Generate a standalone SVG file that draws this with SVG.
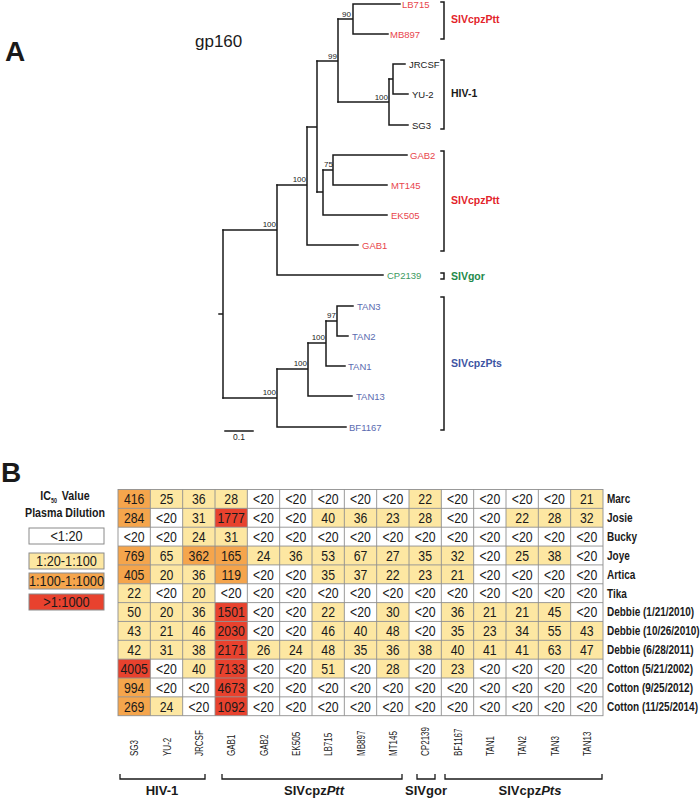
<svg xmlns="http://www.w3.org/2000/svg" width="700" height="800" viewBox="0 0 700 800">
<style>
text{font-family:"Liberation Sans",Arial,sans-serif;fill:#1a1a1a}
.br{fill:none;stroke:#1a1a1a;stroke-width:1.5;stroke-linecap:square}
.tip{font-size:9.5px}
.sup{font-size:8px;text-anchor:end}
.red{fill:#e8454c}.grn{fill:#3d9a5f}.blu{fill:#5a6bb0}
.gl{font-size:10.5px;font-weight:bold}
.gred{fill:#e3242b}.ggrn{fill:#1e8a4a}.gblu{fill:#3e55a3}
.y{fill:#fde7a2}.o{fill:#f5a54c}.r{fill:#e8422e}
.cell{font-size:15px;text-anchor:middle}
.rowl{font-size:12.5px;font-weight:bold}
.coll{font-size:11.5px}
.bl{font-size:13px;font-weight:bold;text-anchor:middle}
.grid{stroke:#8f8f8f;stroke-width:0.9;fill:none}
.lbox{stroke:#8a8a8a;stroke-width:1}
.ltxt{font-size:15px;text-anchor:middle}
</style>

<text x="5" y="61" font-size="28" font-weight="bold">A</text>
<text x="195" y="47" font-size="17">gp160</text>

<g id="connectors" class="br">
<path d="M219 314H223M223 230V398"/>
<path d="M223 230H277M277 185V275M277 275H383"/>
<path d="M277 185H307M307 127V245M307 245H358"/>
<path d="M307 127H317M317 61V192"/>
<path d="M317 61H338M338 19V102"/>
<path d="M338 19H353M353 4V34M353 4H400M353 34H388"/>
<path d="M338 102H389M389 79V125M389 125H408"/>
<path d="M389 79H393M393 64V94M393 64H405M393 94H408"/>
<path d="M317 192H323M323 170V215M323 215H387"/>
<path d="M323 170H333M333 155V185M333 155H407M333 185H387"/>
<path d="M223 398H277M277 369V427M277 427H346"/>
<path d="M277 369H308M308 343V396M308 396H352"/>
<path d="M308 343H326M326 321V366M326 366H345"/>
<path d="M326 321H337M337 306V336M337 306H353M337 336H348"/>
<path d="M225 431H253"/>
</g>
<text x="239" y="440" font-size="8.5" text-anchor="middle">0.1</text>

<g id="support">
<text class="sup" x="351" y="17">90</text>
<text class="sup" x="337" y="59">99</text>
<text class="sup" x="388" y="100">100</text>
<text class="sup" x="333" y="167">75</text>
<text class="sup" x="306" y="182">100</text>
<text class="sup" x="276" y="227">100</text>
<text class="sup" x="276" y="395">100</text>
<text class="sup" x="307" y="366">100</text>
<text class="sup" x="325" y="340">100</text>
<text class="sup" x="336" y="318">97</text>
</g>

<g id="tip-LB715"><text class="tip red" x="402" y="7.5">LB715</text></g>
<g id="tip-MB897"><text class="tip red" x="390" y="37.5">MB897</text></g>
<g id="tip-JRCSF"><text class="tip" x="409" y="67.5">JRCSF</text></g>
<g id="tip-YU2"><text class="tip" x="412" y="97.5">YU-2</text></g>
<g id="tip-SG3"><text class="tip" x="412" y="128.5">SG3</text></g>
<g id="tip-GAB2"><text class="tip red" x="410" y="158.5">GAB2</text></g>
<g id="tip-MT145"><text class="tip red" x="391" y="188.5">MT145</text></g>
<g id="tip-EK505"><text class="tip red" x="391" y="218.5">EK505</text></g>
<g id="tip-GAB1"><text class="tip red" x="362" y="248.5">GAB1</text></g>
<g id="tip-CP2139"><text class="tip grn" x="387" y="278.5">CP2139</text></g>
<g id="tip-TAN3"><text class="tip blu" x="357" y="309.5">TAN3</text></g>
<g id="tip-TAN2"><text class="tip blu" x="352" y="339.5">TAN2</text></g>
<g id="tip-TAN1"><text class="tip blu" x="348" y="369.5">TAN1</text></g>
<g id="tip-TAN13"><text class="tip blu" x="356" y="399.5">TAN13</text></g>
<g id="tip-BF1167"><text class="tip blu" x="349" y="430.5">BF1167</text></g>

<g id="clade-brackets" class="br">
<path d="M441 2H444V39H441"/>
<path d="M441 60H444V129H441"/>
<path d="M441 151H444V251H441"/>
<path d="M441 273H444V279H441"/>
<path d="M441 297H444V430H441"/>
</g>
<g id="clade-labels">
<text class="gl gred" x="451" y="23">SIVcpzPtt</text>
<text class="gl" x="451" y="97">HIV-1</text>
<text class="gl gred" x="451" y="204">SIVcpzPtt</text>
<text class="gl ggrn" x="451" y="280">SIVgor</text>
<text class="gl gblu" x="451" y="367">SIVcpzPts</text>
</g>

<text x="1" y="482" font-size="28" font-weight="bold">B</text>

<g id="legend">
<text transform="translate(65,500) scale(0.82,1)" font-size="13" font-weight="bold" text-anchor="middle">IC<tspan font-size="6.5" dy="2.5">50</tspan><tspan dy="-2.5" dx="6">Value</tspan></text>
<text transform="translate(65,517) scale(0.82,1)" font-size="13" font-weight="bold" text-anchor="middle">Plasma Dilution</text>
<rect class="lbox" x="29" y="528" width="75" height="16" fill="#fff"/>
<rect class="lbox y" x="29" y="553" width="75" height="16"/>
<rect class="lbox o" x="29" y="573" width="75" height="16"/>
<rect class="lbox r" x="29" y="594" width="75" height="16"/>
<g transform="translate(66.5,0) scale(0.85,1)">
<text class="ltxt" x="0" y="541">&lt;1:20</text>
<text class="ltxt" x="0" y="566">1:20-1:100</text>
<text class="ltxt" x="0" y="586">1:100-1:1000</text>
<text class="ltxt" x="0" y="607">&gt;1:1000</text>
</g>
</g>

<g id="table-cells">
<rect x="118" y="489.5" width="485" height="226.2" fill="#fff"/>
<rect class="o" x="118" y="489.5" width="32.33" height="18.85"/>
<rect class="y" x="150.33" y="489.5" width="97" height="18.85"/>
<rect class="y" x="409" y="489.5" width="32.33" height="18.85"/>
<rect class="y" x="570.67" y="489.5" width="32.33" height="18.85"/>

<rect class="o" x="118" y="508.35" width="32.33" height="18.85"/>
<rect class="y" x="182.67" y="508.35" width="32.33" height="18.85"/>
<rect class="r" x="215" y="508.35" width="32.33" height="18.85"/>
<rect class="y" x="312" y="508.35" width="129.33" height="18.85"/>
<rect class="y" x="506" y="508.35" width="97" height="18.85"/>

<rect class="y" x="182.67" y="527.2" width="64.67" height="18.85"/>

<rect class="o" x="118" y="546.05" width="32.33" height="18.85"/>
<rect class="y" x="150.33" y="546.05" width="32.33" height="18.85"/>
<rect class="o" x="182.67" y="546.05" width="64.67" height="18.85"/>
<rect class="y" x="247.33" y="546.05" width="226.33" height="18.85"/>
<rect class="y" x="506" y="546.05" width="64.67" height="18.85"/>

<rect class="o" x="118" y="564.9" width="32.33" height="18.85"/>
<rect class="y" x="150.33" y="564.9" width="64.67" height="18.85"/>
<rect class="o" x="215" y="564.9" width="32.33" height="18.85"/>
<rect class="y" x="312" y="564.9" width="161.67" height="18.85"/>

<rect class="y" x="118" y="583.75" width="32.33" height="18.85"/>
<rect class="y" x="182.67" y="583.75" width="32.33" height="18.85"/>

<rect class="y" x="118" y="602.6" width="97" height="18.85"/>
<rect class="r" x="215" y="602.6" width="32.33" height="18.85"/>
<rect class="y" x="312" y="602.6" width="32.33" height="18.85"/>
<rect class="y" x="376.67" y="602.6" width="32.33" height="18.85"/>
<rect class="y" x="441.33" y="602.6" width="129.33" height="18.85"/>

<rect class="y" x="118" y="621.45" width="97" height="18.85"/>
<rect class="r" x="215" y="621.45" width="32.33" height="18.85"/>
<rect class="y" x="312" y="621.45" width="97" height="18.85"/>
<rect class="y" x="441.33" y="621.45" width="161.67" height="18.85"/>

<rect class="y" x="118" y="640.3" width="97" height="18.85"/>
<rect class="r" x="215" y="640.3" width="32.33" height="18.85"/>
<rect class="y" x="247.33" y="640.3" width="355.67" height="18.85"/>

<rect class="r" x="118" y="659.15" width="32.33" height="18.85"/>
<rect class="y" x="182.67" y="659.15" width="32.33" height="18.85"/>
<rect class="r" x="215" y="659.15" width="32.33" height="18.85"/>
<rect class="y" x="312" y="659.15" width="32.33" height="18.85"/>
<rect class="y" x="376.67" y="659.15" width="32.33" height="18.85"/>
<rect class="y" x="441.33" y="659.15" width="32.33" height="18.85"/>

<rect class="o" x="118" y="678" width="32.33" height="18.85"/>
<rect class="r" x="215" y="678" width="32.33" height="18.85"/>

<rect class="o" x="118" y="696.85" width="32.33" height="18.85"/>
<rect class="y" x="150.33" y="696.85" width="32.33" height="18.85"/>
<rect class="r" x="215" y="696.85" width="32.33" height="18.85"/>
</g>

<g id="table-grid" class="grid">
<rect x="118" y="489.5" width="485" height="226.2"/>
<path d="M150.33 489.5V715.7M182.67 489.5V715.7M215 489.5V715.7M247.33 489.5V715.7M279.67 489.5V715.7M312 489.5V715.7M344.33 489.5V715.7M376.67 489.5V715.7M409 489.5V715.7M441.33 489.5V715.7M473.67 489.5V715.7M506 489.5V715.7M538.33 489.5V715.7M570.67 489.5V715.7"/>
<path d="M118 508.35H603M118 527.2H603M118 546.05H603M118 564.9H603M118 583.75H603M118 602.6H603M118 621.45H603M118 640.3H603M118 659.15H603M118 678H603M118 696.85H603"/>
</g>

<g id="table-values">
<g transform="translate(134.17,0) scale(0.82,1)">
<text class="cell" y="504.2">416</text><text class="cell" y="523.05">284</text><text class="cell" y="541.9">&lt;20</text><text class="cell" y="560.75">769</text><text class="cell" y="579.6">405</text><text class="cell" y="598.45">22</text><text class="cell" y="617.3">50</text><text class="cell" y="636.15">43</text><text class="cell" y="655">42</text><text class="cell" y="673.85">4005</text><text class="cell" y="692.7">994</text><text class="cell" y="711.55">269</text>
</g>
<g transform="translate(166.5,0) scale(0.82,1)">
<text class="cell" y="504.2">25</text><text class="cell" y="523.05">&lt;20</text><text class="cell" y="541.9">&lt;20</text><text class="cell" y="560.75">65</text><text class="cell" y="579.6">20</text><text class="cell" y="598.45">&lt;20</text><text class="cell" y="617.3">20</text><text class="cell" y="636.15">21</text><text class="cell" y="655">31</text><text class="cell" y="673.85">&lt;20</text><text class="cell" y="692.7">&lt;20</text><text class="cell" y="711.55">24</text>
</g>
<g transform="translate(198.83,0) scale(0.82,1)">
<text class="cell" y="504.2">36</text><text class="cell" y="523.05">31</text><text class="cell" y="541.9">24</text><text class="cell" y="560.75">362</text><text class="cell" y="579.6">36</text><text class="cell" y="598.45">20</text><text class="cell" y="617.3">36</text><text class="cell" y="636.15">46</text><text class="cell" y="655">38</text><text class="cell" y="673.85">40</text><text class="cell" y="692.7">&lt;20</text><text class="cell" y="711.55">&lt;20</text>
</g>
<g transform="translate(231.17,0) scale(0.82,1)">
<text class="cell" y="504.2">28</text><text class="cell" y="523.05">1777</text><text class="cell" y="541.9">31</text><text class="cell" y="560.75">165</text><text class="cell" y="579.6">119</text><text class="cell" y="598.45">&lt;20</text><text class="cell" y="617.3">1501</text><text class="cell" y="636.15">2030</text><text class="cell" y="655">2171</text><text class="cell" y="673.85">7133</text><text class="cell" y="692.7">4673</text><text class="cell" y="711.55">1092</text>
</g>
<g transform="translate(263.5,0) scale(0.82,1)">
<text class="cell" y="504.2">&lt;20</text><text class="cell" y="523.05">&lt;20</text><text class="cell" y="541.9">&lt;20</text><text class="cell" y="560.75">24</text><text class="cell" y="579.6">&lt;20</text><text class="cell" y="598.45">&lt;20</text><text class="cell" y="617.3">&lt;20</text><text class="cell" y="636.15">&lt;20</text><text class="cell" y="655">26</text><text class="cell" y="673.85">&lt;20</text><text class="cell" y="692.7">&lt;20</text><text class="cell" y="711.55">&lt;20</text>
</g>
<g transform="translate(295.83,0) scale(0.82,1)">
<text class="cell" y="504.2">&lt;20</text><text class="cell" y="523.05">&lt;20</text><text class="cell" y="541.9">&lt;20</text><text class="cell" y="560.75">36</text><text class="cell" y="579.6">&lt;20</text><text class="cell" y="598.45">&lt;20</text><text class="cell" y="617.3">&lt;20</text><text class="cell" y="636.15">&lt;20</text><text class="cell" y="655">24</text><text class="cell" y="673.85">&lt;20</text><text class="cell" y="692.7">&lt;20</text><text class="cell" y="711.55">&lt;20</text>
</g>
<g transform="translate(328.17,0) scale(0.82,1)">
<text class="cell" y="504.2">&lt;20</text><text class="cell" y="523.05">40</text><text class="cell" y="541.9">&lt;20</text><text class="cell" y="560.75">53</text><text class="cell" y="579.6">35</text><text class="cell" y="598.45">&lt;20</text><text class="cell" y="617.3">22</text><text class="cell" y="636.15">46</text><text class="cell" y="655">48</text><text class="cell" y="673.85">51</text><text class="cell" y="692.7">&lt;20</text><text class="cell" y="711.55">&lt;20</text>
</g>
<g transform="translate(360.5,0) scale(0.82,1)">
<text class="cell" y="504.2">&lt;20</text><text class="cell" y="523.05">36</text><text class="cell" y="541.9">&lt;20</text><text class="cell" y="560.75">67</text><text class="cell" y="579.6">37</text><text class="cell" y="598.45">&lt;20</text><text class="cell" y="617.3">&lt;20</text><text class="cell" y="636.15">40</text><text class="cell" y="655">35</text><text class="cell" y="673.85">&lt;20</text><text class="cell" y="692.7">&lt;20</text><text class="cell" y="711.55">&lt;20</text>
</g>
<g transform="translate(392.83,0) scale(0.82,1)">
<text class="cell" y="504.2">&lt;20</text><text class="cell" y="523.05">23</text><text class="cell" y="541.9">&lt;20</text><text class="cell" y="560.75">27</text><text class="cell" y="579.6">22</text><text class="cell" y="598.45">&lt;20</text><text class="cell" y="617.3">30</text><text class="cell" y="636.15">48</text><text class="cell" y="655">36</text><text class="cell" y="673.85">28</text><text class="cell" y="692.7">&lt;20</text><text class="cell" y="711.55">&lt;20</text>
</g>
<g transform="translate(425.17,0) scale(0.82,1)">
<text class="cell" y="504.2">22</text><text class="cell" y="523.05">28</text><text class="cell" y="541.9">&lt;20</text><text class="cell" y="560.75">35</text><text class="cell" y="579.6">23</text><text class="cell" y="598.45">&lt;20</text><text class="cell" y="617.3">&lt;20</text><text class="cell" y="636.15">&lt;20</text><text class="cell" y="655">38</text><text class="cell" y="673.85">&lt;20</text><text class="cell" y="692.7">&lt;20</text><text class="cell" y="711.55">&lt;20</text>
</g>
<g transform="translate(457.5,0) scale(0.82,1)">
<text class="cell" y="504.2">&lt;20</text><text class="cell" y="523.05">&lt;20</text><text class="cell" y="541.9">&lt;20</text><text class="cell" y="560.75">32</text><text class="cell" y="579.6">21</text><text class="cell" y="598.45">&lt;20</text><text class="cell" y="617.3">36</text><text class="cell" y="636.15">35</text><text class="cell" y="655">40</text><text class="cell" y="673.85">23</text><text class="cell" y="692.7">&lt;20</text><text class="cell" y="711.55">&lt;20</text>
</g>
<g transform="translate(489.83,0) scale(0.82,1)">
<text class="cell" y="504.2">&lt;20</text><text class="cell" y="523.05">&lt;20</text><text class="cell" y="541.9">&lt;20</text><text class="cell" y="560.75">&lt;20</text><text class="cell" y="579.6">&lt;20</text><text class="cell" y="598.45">&lt;20</text><text class="cell" y="617.3">21</text><text class="cell" y="636.15">23</text><text class="cell" y="655">41</text><text class="cell" y="673.85">&lt;20</text><text class="cell" y="692.7">&lt;20</text><text class="cell" y="711.55">&lt;20</text>
</g>
<g transform="translate(522.17,0) scale(0.82,1)">
<text class="cell" y="504.2">&lt;20</text><text class="cell" y="523.05">22</text><text class="cell" y="541.9">&lt;20</text><text class="cell" y="560.75">25</text><text class="cell" y="579.6">&lt;20</text><text class="cell" y="598.45">&lt;20</text><text class="cell" y="617.3">21</text><text class="cell" y="636.15">34</text><text class="cell" y="655">41</text><text class="cell" y="673.85">&lt;20</text><text class="cell" y="692.7">&lt;20</text><text class="cell" y="711.55">&lt;20</text>
</g>
<g transform="translate(554.5,0) scale(0.82,1)">
<text class="cell" y="504.2">&lt;20</text><text class="cell" y="523.05">28</text><text class="cell" y="541.9">&lt;20</text><text class="cell" y="560.75">38</text><text class="cell" y="579.6">&lt;20</text><text class="cell" y="598.45">&lt;20</text><text class="cell" y="617.3">45</text><text class="cell" y="636.15">55</text><text class="cell" y="655">63</text><text class="cell" y="673.85">&lt;20</text><text class="cell" y="692.7">&lt;20</text><text class="cell" y="711.55">&lt;20</text>
</g>
<g transform="translate(586.83,0) scale(0.82,1)">
<text class="cell" y="504.2">21</text><text class="cell" y="523.05">32</text><text class="cell" y="541.9">&lt;20</text><text class="cell" y="560.75">&lt;20</text><text class="cell" y="579.6">&lt;20</text><text class="cell" y="598.45">&lt;20</text><text class="cell" y="617.3">&lt;20</text><text class="cell" y="636.15">43</text><text class="cell" y="655">47</text><text class="cell" y="673.85">&lt;20</text><text class="cell" y="692.7">&lt;20</text><text class="cell" y="711.55">&lt;20</text>
</g>
</g>

<g id="row-labels" transform="translate(607,0) scale(0.8,1)">
<text class="rowl" y="503.3">Marc</text>
<text class="rowl" y="522.15">Josie</text>
<text class="rowl" y="541">Bucky</text>
<text class="rowl" y="559.85">Joye</text>
<text class="rowl" y="578.7">Artica</text>
<text class="rowl" y="597.55">Tika</text>
<text class="rowl" y="616.4">Debbie (1/21/2010)</text>
<text class="rowl" y="635.25">Debbie (10/26/2010)</text>
<text class="rowl" y="654.1">Debbie (6/28/2011)</text>
<text class="rowl" y="672.95">Cotton (5/21/2002)</text>
<text class="rowl" y="691.8">Cotton (9/25/2012)</text>
<text class="rowl" y="710.65">Cotton (11/25/2014)</text>
</g>

<g id="column-labels">
<text class="coll" transform="translate(134.17,756) rotate(-90) scale(0.7,1)" y="4">SG3</text>
<text class="coll" transform="translate(166.5,756) rotate(-90) scale(0.7,1)" y="4">YU-2</text>
<text class="coll" transform="translate(198.83,756) rotate(-90) scale(0.7,1)" y="4">JRCSF</text>
<text class="coll" transform="translate(231.17,756) rotate(-90) scale(0.7,1)" y="4">GAB1</text>
<text class="coll" transform="translate(263.5,756) rotate(-90) scale(0.7,1)" y="4">GAB2</text>
<text class="coll" transform="translate(295.83,756) rotate(-90) scale(0.7,1)" y="4">EK505</text>
<text class="coll" transform="translate(328.17,756) rotate(-90) scale(0.7,1)" y="4">LB715</text>
<text class="coll" transform="translate(360.5,756) rotate(-90) scale(0.7,1)" y="4">MB897</text>
<text class="coll" transform="translate(392.83,756) rotate(-90) scale(0.7,1)" y="4">MT145</text>
<text class="coll" transform="translate(425.17,756) rotate(-90) scale(0.7,1)" y="4">CP2139</text>
<text class="coll" transform="translate(457.5,756) rotate(-90) scale(0.7,1)" y="4">BF1167</text>
<text class="coll" transform="translate(489.83,756) rotate(-90) scale(0.7,1)" y="4">TAN1</text>
<text class="coll" transform="translate(522.17,756) rotate(-90) scale(0.7,1)" y="4">TAN2</text>
<text class="coll" transform="translate(554.5,756) rotate(-90) scale(0.7,1)" y="4">TAN3</text>
<text class="coll" transform="translate(586.83,756) rotate(-90) scale(0.7,1)" y="4">TAN13</text>
</g>

<g id="group-brackets" fill="none" stroke="#1a1a1a" stroke-width="1.3">
<path d="M120 774V779H205V774"/>
<path d="M222 774V779H402V774"/>
<path d="M417 774V779H435V774"/>
<path d="M445 774V779H602V774"/>
</g>
<g id="group-labels">
<text class="bl" x="162" y="795">HIV-1</text>
<text class="bl" x="314" y="795">SIVcpz<tspan font-style="italic">Ptt</tspan></text>
<text class="bl" x="426" y="795">SIVgor</text>
<text class="bl" x="530" y="795">SIVcpz<tspan font-style="italic">Pts</tspan></text>
</g>
</svg>
